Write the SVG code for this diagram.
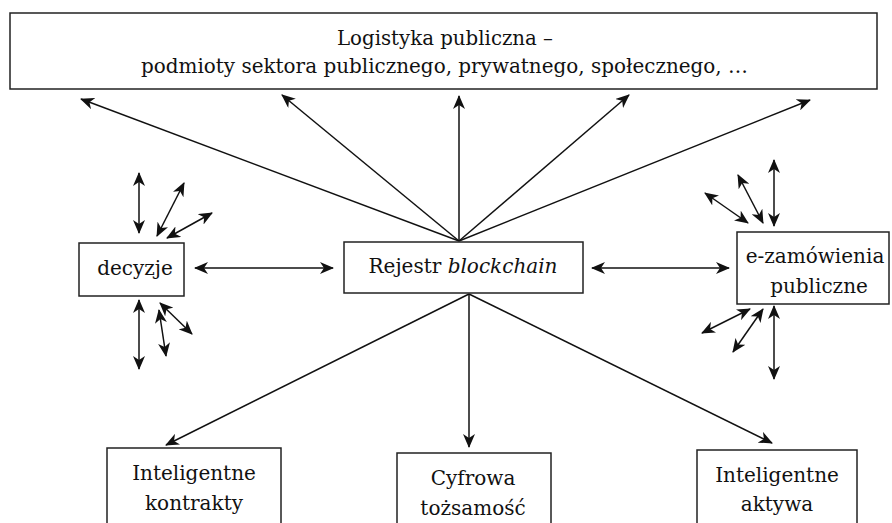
<svg xmlns="http://www.w3.org/2000/svg" width="892" height="523" viewBox="0 0 892 523">
<defs>
<marker id="ah" viewBox="0 0 14 12" refX="13" refY="6" markerWidth="14" markerHeight="12" markerUnits="userSpaceOnUse" orient="auto-start-reverse">
<path d="M0,0 L14,6 L0,12 L4,6 z" fill="#111"/>
</marker>
</defs>
<style>
.box{fill:#fff;stroke:#222;stroke-width:1.5}
.t{font-family:"DejaVu Serif","Liberation Serif",serif;font-size:20px;fill:#111;text-anchor:middle}
.c line{stroke:#111;stroke-width:1.5;fill:none}
.u{marker-end:url(#ah)}
.b{marker-start:url(#ah);marker-end:url(#ah)}
</style>
<rect width="892" height="523" fill="#fff"/>
<g id="connectors" class="c">
<line class="u" x1="459" y1="241" x2="81" y2="99"/>
<line class="u" x1="459" y1="241" x2="282" y2="95"/>
<line class="u" x1="459" y1="241" x2="459" y2="96"/>
<line class="u" x1="459" y1="241" x2="629" y2="95"/>
<line class="u" x1="459" y1="241" x2="810" y2="100"/>
<line class="u" x1="469" y1="294" x2="166" y2="445"/>
<line class="u" x1="469" y1="294" x2="469" y2="447"/>
<line class="u" x1="469" y1="294" x2="772" y2="443"/>
<line class="b" x1="195" y1="268" x2="333" y2="268"/>
<line class="b" x1="592" y1="268" x2="729" y2="268"/>
<line class="b" x1="139" y1="173" x2="139" y2="233"/>
<line class="b" x1="157" y1="236" x2="184" y2="183"/>
<line class="b" x1="167" y1="238" x2="212" y2="213"/>
<line class="b" x1="139" y1="300" x2="139" y2="369"/>
<line class="b" x1="160" y1="303" x2="192" y2="334"/>
<line class="b" x1="159" y1="310" x2="166" y2="356"/>
<line class="b" x1="774" y1="160" x2="774" y2="226"/>
<line class="b" x1="738" y1="175" x2="763" y2="223"/>
<line class="b" x1="705" y1="193" x2="748" y2="223"/>
<line class="b" x1="774" y1="306" x2="774" y2="379"/>
<line class="b" x1="750" y1="309" x2="702" y2="333"/>
<line class="b" x1="763" y1="309" x2="733" y2="352"/>
</g>
<g id="logistyka">
<rect class="box" x="10" y="13" width="867" height="76"/>
<text class="t" x="445" y="45" textLength="216" lengthAdjust="spacingAndGlyphs">Logistyka publiczna –</text>
<text class="t" x="444.5" y="73" textLength="607" lengthAdjust="spacingAndGlyphs">podmioty sektora publicznego, prywatnego, społecznego, …</text>
</g>
<g id="decyzje">
<rect class="box" x="79" y="243" width="105" height="53"/>
<text class="t" x="135" y="275">decyzje</text>
</g>
<g id="rejestr">
<rect class="box" x="344" y="242" width="239" height="51"/>
<text class="t" x="463" y="273">Rejestr <tspan font-style="italic">blockchain</tspan></text>
</g>
<g id="ezamowienia">
<rect class="box" x="737" y="232" width="152" height="72"/>
<text class="t" x="815" y="263">e-zamówienia</text>
<text class="t" x="819" y="293">publiczne</text>
</g>
<g id="kontrakty">
<rect class="box" x="107" y="448" width="174" height="85"/>
<text class="t" x="194" y="480">Inteligentne</text>
<text class="t" x="194" y="510">kontrakty</text>
</g>
<g id="tozsamosc">
<rect class="box" x="397" y="453" width="154" height="80"/>
<text class="t" x="473" y="485">Cyfrowa</text>
<text class="t" x="473" y="515">tożsamość</text>
</g>
<g id="aktywa">
<rect class="box" x="697" y="450" width="160" height="83"/>
<text class="t" x="777" y="482">Inteligentne</text>
<text class="t" x="777" y="511">aktywa</text>
</g>
</svg>
